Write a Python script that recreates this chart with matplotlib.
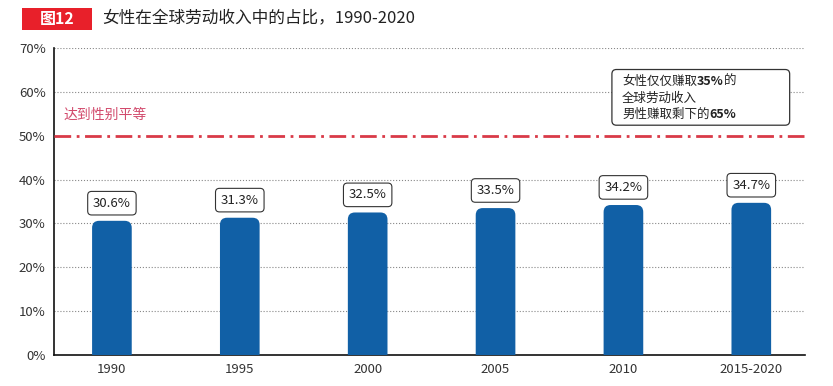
import matplotlib.pyplot as plt
from matplotlib.patches import FancyBboxPatch, Rectangle

plt.rcParams['font.family'] = ['Noto Sans CJK SC', 'DejaVu Sans']

# data
categories = ['1990', '1995', '2000', '2005', '2010', '2015-2020']
share = [30.6, 31.3, 32.5, 33.5, 34.2, 34.7]
parity = 50
yticks = [0, 10, 20, 30, 40, 50, 60, 70]

bar_color = '#1160a6'
red = '#d93a48'

fig = plt.figure(figsize=(8.33, 3.86), dpi=100)
ax = fig.add_axes([0.0648, 0.0803, 0.9016, 0.7953])

# y radius ~ x radius in pixels (128 px per category, ~4.39 px per %)
aspect = 128 / 4.39

x = list(range(len(categories)))
bw = 0.31
for xi, v in zip(x, share):
    # rounded top bar, bottom clipped by axes
    p = FancyBboxPatch((xi - bw / 2, -3), bw, v + 3,
                       boxstyle='round,pad=0,rounding_size=0.055',
                       mutation_aspect=aspect,
                       fc=bar_color, ec='none', zorder=3)
    ax.add_patch(p)
    ax.annotate(f'{v:.1f}%', (xi, v), xytext=(0, 8), textcoords='offset points',
                ha='center', va='bottom', fontsize=9.5, color='#222222',
                bbox=dict(boxstyle='round,pad=0.4,rounding_size=0.3', fc='white',
                          ec='#333333', lw=0.8), zorder=5)

ax.set_xlim(-0.453, 5.42)
ax.set_ylim(0, 70)
ax.set_xticks(x)
ax.set_xticklabels(categories, fontsize=9.5, color='#333333')
ax.set_yticks(yticks)
ax.set_yticklabels([f'{t}%' for t in yticks], fontsize=9.5, color='#333333')
ax.tick_params(length=0, pad=6)

for t in yticks[1:]:
    if t != parity:
        ax.axhline(t, linestyle=':', color='#888888', lw=0.8, zorder=0)
for s in ['top', 'right']:
    ax.spines[s].set_visible(False)
ax.spines['left'].set_color('#111111')
ax.spines['bottom'].set_color('#111111')
ax.spines['left'].set_linewidth(1.2)
ax.spines['bottom'].set_linewidth(1.2)

# parity line
ax.axhline(parity, color=red, lw=2, linestyle=(0, (6, 2, 1, 2)), zorder=4)
ax.text(-0.38, parity + 3.2, '达到性别平等', color='#d24a6c', fontsize=10, va='bottom', ha='left')

# note box
note = FancyBboxPatch((3.91, 52.4), 1.39, 12.7,
                      boxstyle='round,pad=0,rounding_size=0.035',
                      mutation_aspect=aspect,
                      fc='white', ec='#333333', lw=0.9, zorder=6)
ax.add_patch(note)
fs = 9
t1 = ax.text(3.99, 62.3, '女性仅仅赚取', fontsize=fs, va='center', ha='left', color='#222222', zorder=7)
t1b = ax.annotate('35%', xy=(1, 0.5), xycoords=t1, va='center', ha='left', fontsize=fs,
                  fontweight='bold', color='#222222', zorder=7)
ax.annotate('的', xy=(1, 0.5), xycoords=t1b, va='center', ha='left', fontsize=fs,
            color='#222222', zorder=7)
ax.text(3.99, 58.5, '全球劳动收入', fontsize=fs, va='center', ha='left', color='#222222', zorder=7)
t3 = ax.text(3.99, 54.8, '男性赚取剩下的', fontsize=fs, va='center', ha='left', color='#222222', zorder=7)
ax.annotate('65%', xy=(1, 0.5), xycoords=t3, va='center', ha='left', fontsize=fs,
            fontweight='bold', color='#222222', zorder=7)

# title
fig.patches.append(Rectangle((22 / 833, 1 - 30 / 386), 70 / 833, 22 / 386,
                             transform=fig.transFigure, fc='#e8202a', ec='none'))
fig.text(57 / 833, 1 - 19 / 386, '图12', color='white', fontsize=11.5, fontweight='bold',
         ha='center', va='center')
fig.text(102 / 833, 1 - 19 / 386, '女性在全球劳动收入中的占比，1990-2020', color='#222222',
         fontsize=12, ha='left', va='center')

fig.savefig('out.png', dpi=100)
